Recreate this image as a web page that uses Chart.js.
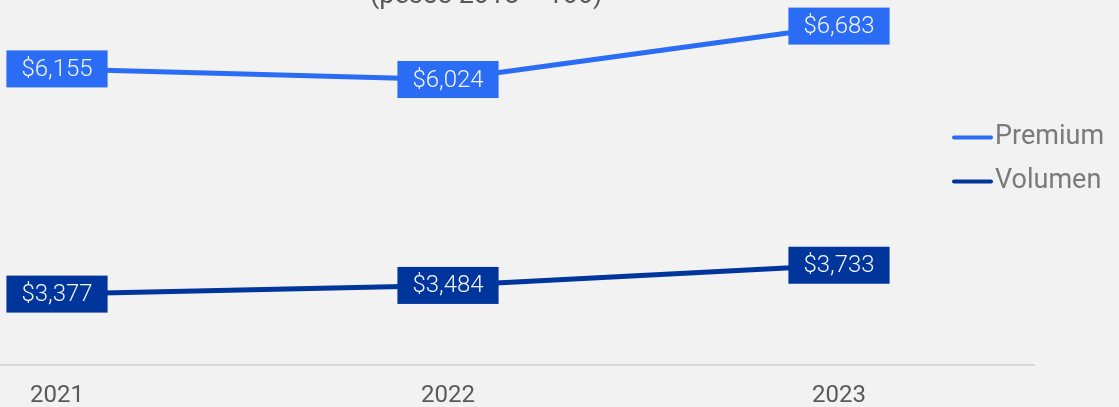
<!DOCTYPE html>
<html><head><meta charset="utf-8">
<script src="https://cdn.jsdelivr.net/npm/chart.js@4.4.1/dist/chart.umd.min.js"></script>
<style>
html,body{margin:0;padding:0;background:#f2f2f2;overflow:hidden;width:1119px;height:407px;}
#wrap{position:absolute;left:-147px;top:-40px;width:1258px;height:478px;}
</style></head><body>
<div id="wrap"><canvas id="c"></canvas></div>
<script>
const categories = ['2021', '2022', '2023'];
const premium = [6155, 6024, 6683];
const volumen = [3377, 3484, 3733];
const seriesNames = ['Premium', 'Volumen'];
const seriesColors = ['#2A6DF4', '#00359B'];
const titleText = '(pesos 2018 = 100)';

Chart.defaults.font.family = 'Roboto';

const labelPlugin = {
  id: 'boxLabels',
  afterDatasetsDraw(chart) {
    const ctx = chart.ctx;
    ctx.save();
    ctx.font = '300 24px Roboto';
    ctx.textAlign = 'center';
    ctx.textBaseline = 'middle';
    chart.data.datasets.forEach((ds, i) => {
      const meta = chart.getDatasetMeta(i);
      meta.data.forEach((pt, j) => {
        const txt = '$' + ds.data[j].toLocaleString('en-US');
        const w = ctx.measureText(txt).width + 30;
        const h = 37;
        ctx.fillStyle = ds.borderColor;
        ctx.fillRect(pt.x - w / 2, pt.y - h / 2, w, h);
        ctx.fillStyle = '#f4f4f4';
        ctx.fillText(txt, pt.x, pt.y + 1);
      });
    });
    ctx.restore();
  }
};

const legendPlugin = {
  id: 'sideLegend',
  afterDraw(chart) {
    const ctx = chart.ctx;
    const a = chart.chartArea;
    ctx.save();
    ctx.font = '27px Roboto';
    ctx.textAlign = 'left';
    ctx.textBaseline = 'middle';
    chart.data.datasets.forEach((ds, i) => {
      const y = a.top + 137 + i * 44;
      const x0 = a.right - 82.5;
      ctx.strokeStyle = ds.borderColor;
      ctx.lineWidth = 4;
      ctx.lineCap = 'round';
      ctx.beginPath();
      ctx.moveTo(x0 + 2, y);
      ctx.lineTo(x0 + 39, y);
      ctx.stroke();
      ctx.fillStyle = '#7a7a7a';
      ctx.fillText(ds.label, x0 + 43, y);
    });
    ctx.restore();
  }
};

new Chart(document.getElementById('c'), {
  type: 'line',
  data: {
    labels: categories,
    datasets: [
      { label: seriesNames[0], data: premium, borderColor: seriesColors[0], backgroundColor: seriesColors[0], borderWidth: 5, pointRadius: 0, tension: 0, fill: false, clip: false },
      { label: seriesNames[1], data: volumen, borderColor: seriesColors[1], backgroundColor: seriesColors[1], borderWidth: 5, pointRadius: 0, tension: 0, fill: false, clip: false }
    ]
  },
  options: {
    responsive: true,
    maintainAspectRatio: false,
    animation: false,
    layout: { padding: { left: 8.5, right: 0, top: 0, bottom: 12 } },
    plugins: {
      legend: { display: false },
      tooltip: { enabled: false },
      title: {
        display: true,
        text: titleText,
        color: '#595959',
        font: { size: 27, weight: 'normal', lineHeight: 1.2 },
        padding: { top: 20, bottom: -12 }
      }
    },
    scales: {
      x: {
        offset: true,
        grid: { display: false, drawTicks: false },
        border: { display: true, color: '#d9d9d9', width: 2 },
        ticks: { color: '#595959', font: { size: 24 }, padding: 16 }
      },
      y: {
        position: 'right',
        min: 2500,
        max: 7000,
        grid: { display: false, drawTicks: false },
        border: { display: false },
        ticks: { display: false },
        afterFit(scale) { scale.width = 76.5; }
      }
    }
  },
  plugins: [labelPlugin, legendPlugin]
});
</script>
</body></html>
